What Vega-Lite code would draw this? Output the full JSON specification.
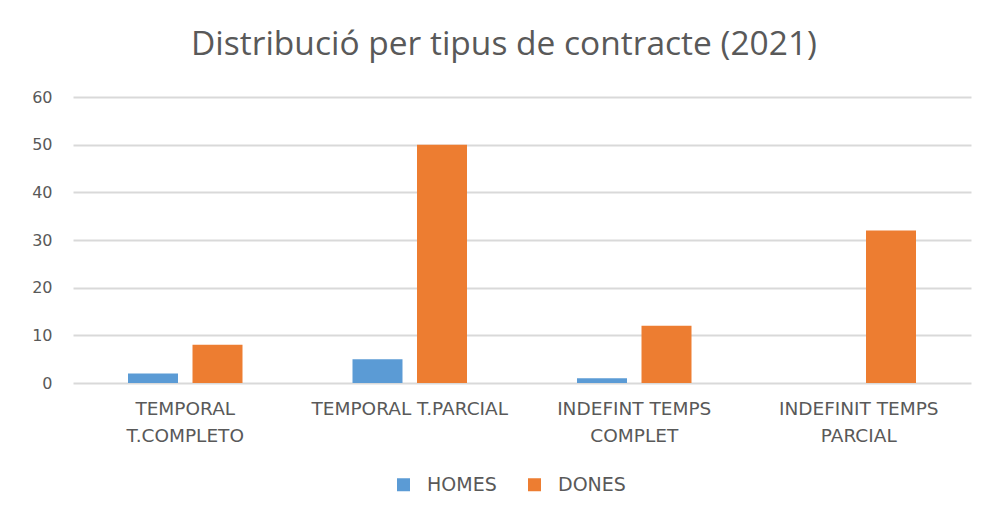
{
  "$schema": "https://vega.github.io/schema/vega-lite/v6.json",
  "autosize": "none",
  "width": 898,
  "height": 286,
  "padding": {"left": 73, "top": 97, "right": 18, "bottom": 127},
  "background": "white",
  "title": {
    "text": "Distribució per tipus de contracte (2021)",
    "font": "Open Sans",
    "fontSize": 33.5,
    "fontWeight": "normal",
    "color": "#595959",
    "anchor": "middle",
    "dx": -18,
    "offset": 27
  },
  "data": {
    "values": [
      {"tipus": "TEMPORAL T.COMPLETO", "sexe": "HOMES", "valor": 2},
      {"tipus": "TEMPORAL T.COMPLETO", "sexe": "DONES", "valor": 8},
      {"tipus": "TEMPORAL T.PARCIAL", "sexe": "HOMES", "valor": 5},
      {"tipus": "TEMPORAL T.PARCIAL", "sexe": "DONES", "valor": 50},
      {"tipus": "INDEFINT TEMPS COMPLET", "sexe": "HOMES", "valor": 1},
      {"tipus": "INDEFINT TEMPS COMPLET", "sexe": "DONES", "valor": 12},
      {"tipus": "INDEFINIT TEMPS PARCIAL", "sexe": "HOMES", "valor": 0},
      {"tipus": "INDEFINIT TEMPS PARCIAL", "sexe": "DONES", "valor": 32}
    ]
  },
  "mark": {"type": "bar"},
  "encoding": {
    "x": {
      "field": "tipus",
      "type": "nominal",
      "sort": null,
      "scale": {"paddingInner": 0.49, "paddingOuter": 0.245},
      "axis": {
        "title": null,
        "labelAngle": 0,
        "domain": false,
        "ticks": false,
        "labelFont": "DejaVu Sans",
        "labelFontSize": 18.5,
        "labelColor": "#595959",
        "labelPadding": 16,
        "labelLineHeight": 27,
        "labelLimit": 400,
        "labelExpr": "datum.label == 'TEMPORAL T.COMPLETO' ? ['TEMPORAL', 'T.COMPLETO'] : datum.label == 'INDEFINT TEMPS COMPLET' ? ['INDEFINT TEMPS', 'COMPLET'] : datum.label == 'INDEFINIT TEMPS PARCIAL' ? ['INDEFINIT TEMPS', 'PARCIAL'] : datum.label"
      }
    },
    "xOffset": {
      "field": "sexe",
      "type": "nominal",
      "sort": ["HOMES", "DONES"],
      "scale": {"paddingInner": 0.225, "paddingOuter": 0}
    },
    "y": {
      "field": "valor",
      "type": "quantitative",
      "scale": {"domain": [0, 60]},
      "axis": {
        "title": null,
        "values": [0, 10, 20, 30, 40, 50, 60],
        "domain": false,
        "ticks": false,
        "grid": true,
        "gridColor": "#d9d9d9",
        "gridWidth": 2,
        "labelFont": "DejaVu Sans",
        "labelFontSize": 16,
        "labelColor": "#595959",
        "labelPadding": 21
      }
    },
    "color": {
      "field": "sexe",
      "type": "nominal",
      "sort": ["HOMES", "DONES"],
      "scale": {"domain": ["HOMES", "DONES"], "range": ["#5b9bd5", "#ed7d31"]},
      "legend": {
        "title": null,
        "orient": "none",
        "direction": "horizontal",
        "legendX": 321,
        "legendY": 378,
        "symbolType": "square",
        "symbolSize": 169,
        "symbolStrokeWidth": 0,
        "labelFont": "DejaVu Sans",
        "labelFontSize": 19,
        "labelColor": "#595959",
        "labelOffset": 14,
        "columnPadding": 28
      }
    }
  },
  "config": {
    "view": {"stroke": null}
  }
}
